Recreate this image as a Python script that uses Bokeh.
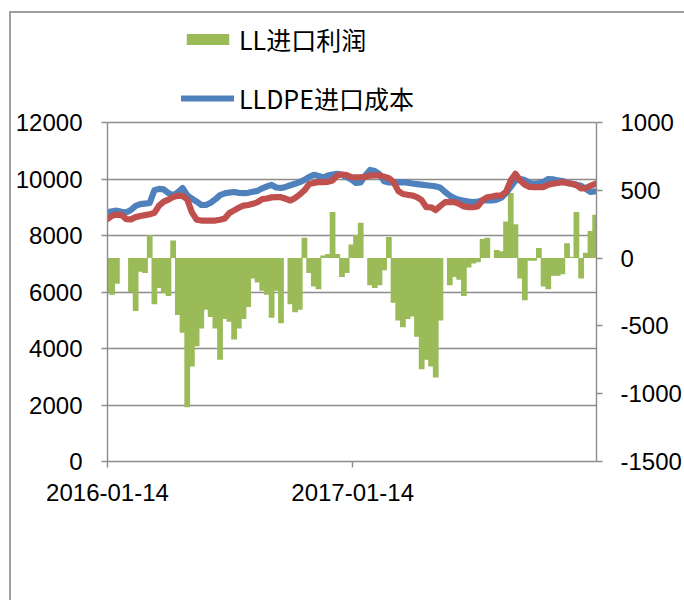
import pandas as pd
from bokeh.plotting import figure
from bokeh.models import (Range1d, LinearAxis, FixedTicker, DatetimeTickFormatter,
                          NumeralTickFormatter, Legend, LegendItem)
from bokeh.embed import file_html
from bokeh.resources import INLINE

# weekly observation dates
dates = pd.date_range("2016-01-14", periods=105, freq="7D")

# LL进口利润 (right axis)
profit = [-250, -270, -190, 0, 0, -250, -390, -100, -110, 170,
          -340, -220, -260, -280, 130, -420, -550, -1100, -800, -650,
          -520, -380, -435, -520, -750, -450, -470, -600, -520, -450,
          -360, -150, -180, -240, -270, -440, -240, -480, 0, -340,
          -400, -380, 150, -110, -210, -230, 20, 30, 340, 30,
          -140, -110, 100, 170, 260, 0, -200, -220, -200, -90,
          155, -330, -460, -510, -450, -430, -580, -820, -750, -800,
          -880, -460, 0, -200, -140, -160, -280, -70, -40, -30,
          140, 150, 0, 60, 50, 270, 480, 250, -150, -310,
          -20, -20, 75, -210, -230, -130, -130, -120, 110, 10,
          340, -150, 40, 200, 320]

# LLDPE进口成本 (left axis)
cost = [8820, 8860, 8880, 8840, 8820, 8900, 9050, 9110, 9130, 9150,
        9600, 9650, 9630, 9500, 9420, 9530, 9680, 9430, 9300, 9200,
        9080, 9080, 9160, 9280, 9430, 9490, 9520, 9540, 9510, 9500,
        9510, 9550, 9580, 9670, 9740, 9790, 9700, 9680, 9720, 9780,
        9830, 9890, 9970, 10070, 10150, 10110, 10060, 10120, 10160, 10180,
        10150, 10060, 9980, 9860, 9880, 10130, 10320, 10280, 10170, 9920,
        9880, 9890, 9880, 9890, 9870, 9840, 9820, 9800, 9780, 9760,
        9740, 9690, 9540, 9410, 9320, 9260, 9230, 9200, 9180, 9200,
        9240, 9240, 9240, 9270, 9340, 9500, 9720, 9940, 10000, 9960,
        9860, 9830, 9860, 9900, 10000, 9990, 9950, 9930, 9860, 9830,
        9800, 9760, 9650, 9540, 9560]

# third series (red, left axis)
price = [8590, 8700, 8740, 8720, 8580, 8570, 8650, 8690, 8720, 8750,
         8800, 9060, 9200, 9270, 9360, 9410, 9400, 9280, 8820, 8560,
         8530, 8530, 8530, 8530, 8560, 8600, 8800, 8890, 8980, 9060,
         9080, 9120, 9180, 9290, 9310, 9350, 9355, 9355, 9300, 9240,
         9330, 9450, 9600, 9820, 9860, 9890, 9890, 9900, 9950, 10130,
         10160, 10140, 10070, 10060, 10065, 10080, 10120, 10125, 10125, 10080,
         10030, 9900, 9580, 9470, 9440, 9415, 9360, 9250, 9000, 9000,
         8900, 9050, 9180, 9180, 9180, 9120, 9030, 9000, 9000, 9040,
         9250, 9355, 9380, 9410, 9420, 9550, 9950, 10185, 9950, 9800,
         9720, 9710, 9710, 9715, 9800, 9830, 9860, 9890, 9860, 9830,
         9780, 9670, 9680, 9760, 9830]

x_ticks = ["2016-01-14", "2017-01-14"]
left_ticks = [0, 2000, 4000, 6000, 8000, 10000, 12000]
right_ticks = [-1500, -1000, -500, 0, 500, 1000]

AX = "#8c8c8c"
FONT = "Liberation Sans"

# layout (canvas pixels)
W, H = 684, 600
FRAME_TOP, AXIS_TOP, AXIS_BOTTOM = 14, 122, 461
LEFT, RIGHT = 107, 596
axis_px = AXIS_BOTTOM - AXIS_TOP
frame_px = AXIS_BOTTOM - FRAME_TOP
left_lo, left_hi = left_ticks[0], left_ticks[-1]
right_lo, right_hi = right_ticks[0], right_ticks[-1]
left_top = left_lo + (left_hi - left_lo) * frame_px / axis_px
right_top = right_lo + (right_hi - right_lo) * frame_px / axis_px

border_css = """
:host {
  background-color: #ffffff;
  background-image: linear-gradient(#a0a0a0, #a0a0a0), linear-gradient(#a0a0a0, #a0a0a0);
  background-size: 2px 100%, 100% 2px;
  background-position: 9px 11px, 9px 11px;
  background-repeat: no-repeat;
}
"""

p = figure(width=W, height=H, output_backend="svg", toolbar_location=None,
           x_axis_type="datetime",
           x_range=Range1d(pd.Timestamp("2016-01-14"), pd.Timestamp("2018-01-13")),
           y_range=Range1d(left_lo, left_top),
           min_border_left=LEFT, min_border_right=W - RIGHT, min_border_top=FRAME_TOP,
           min_border_bottom=H - AXIS_BOTTOM, stylesheets=[border_css])
p.extra_y_ranges = {"right": Range1d(right_lo, right_top)}
p.outline_line_color = None
p.border_fill_color = None
p.background_fill_color = None

day_ms = 86400000
bars = p.vbar(x=dates, top=profit, bottom=0, width=8.6 * day_ms, y_range_name="right",
              fill_color="#9BBB59", line_color=None)
blue = p.line(dates, cost, line_color="#4F81BD", line_width=6.2,
              line_join="round", line_cap="round")
red = p.line(dates, price, line_color="#C0504D", line_width=6.2,
             line_join="round", line_cap="round")

xt = [pd.Timestamp(d).value // 10**6 for d in x_ticks]
p.xaxis[0].ticker = FixedTicker(ticks=xt)
fmt = "%Y-%m-%d"
p.xaxis[0].formatter = DatetimeTickFormatter(
    microseconds=fmt, milliseconds=fmt, seconds=fmt, minsec=fmt, minutes=fmt,
    hourmin=fmt, hours=fmt, days=fmt, months=fmt, years=fmt)
p.yaxis[0].ticker = FixedTicker(ticks=left_ticks)
p.yaxis[0].formatter = NumeralTickFormatter(format="0")
p.yaxis[0].bounds = (left_lo, left_hi)

raxis = LinearAxis(y_range_name="right", ticker=FixedTicker(ticks=right_ticks),
                   formatter=NumeralTickFormatter(format="0"), bounds=(right_lo, right_hi))
p.add_layout(raxis, "right")

for ax in [p.xaxis[0], p.yaxis[0], raxis]:
    ax.axis_line_color = AX
    ax.axis_line_width = 1.4
    ax.major_tick_line_color = AX
    ax.major_tick_line_width = 1.4
    ax.major_tick_in = 0
    ax.major_tick_out = 6
    ax.minor_tick_line_color = None
    ax.major_label_text_font = FONT
    ax.major_label_text_font_size = "24px"
    ax.major_label_text_color = "#000000"

p.yaxis[0].major_label_standoff = 19
raxis.major_label_standoff = 18
p.xaxis[0].major_label_standoff = 16

p.xgrid.visible = False
p.ygrid.ticker = FixedTicker(ticks=left_ticks)
p.ygrid.grid_line_color = AX
p.ygrid.grid_line_width = 1.4

legend = Legend(items=[LegendItem(label="LL进口利润", renderers=[bars]),
                       LegendItem(label="LLDPE进口成本", renderers=[blue])],
                location=(74, 345), orientation="vertical", padding=0, margin=0,
                spacing=23, glyph_width=53, glyph_height=14, label_height=35,
                label_standoff=5, label_text_font="Noto Sans CJK SC",
                label_text_font_size="25px", label_text_color="#000000",
                border_line_color=None, background_fill_alpha=0)
p.add_layout(legend)

open("out.html", "w").write(file_html(p, INLINE))
